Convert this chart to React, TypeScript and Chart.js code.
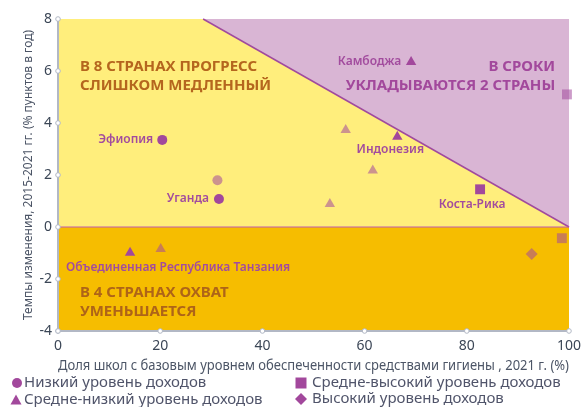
import React, { useEffect, useRef } from "react";
import { Chart, registerables } from "chart.js";

Chart.register(...registerables);

// ---------- data ----------
const X_TICKS = [0, 20, 40, 60, 80, 100];
const Y_TICKS = [-4, -2, 0, 2, 4, 6, 8];

const LEGEND_LABELS = [
  "Низкий уровень доходов",
  "Средне-низкий уровень доходов",
  "Средне-высокий уровень доходов",
  "Высокий уровень доходов",
];

const lowIncome = [
  { x: 20.4, y: 3.35 },
  { x: 31.2, y: 1.8 },
  { x: 31.5, y: 1.08 },
];
const lowIncomeHighlight = [true, false, true];

const lowerMiddle = [
  { x: 69.1, y: 6.35 },
  { x: 56.3, y: 3.73 },
  { x: 66.4, y: 3.47 },
  { x: 61.6, y: 2.17 },
  { x: 53.2, y: 0.88 },
  { x: 14.1, y: -0.99 },
  { x: 20.1, y: -0.85 },
];
const lowerMiddleHighlight = [true, false, true, false, false, true, false];

const upperMiddle = [
  { x: 82.6, y: 1.45 },
  { x: 98.6, y: -0.43 },
  { x: 99.6, y: 5.1 },
];
const upperMiddleHighlight = [true, false, false];

const highIncome = [{ x: 92.7, y: -1.04 }];
const highIncomeHighlight = [false];

// threshold line: required pace to reach universal coverage
const thresholdLine = [
  { x: 28.4, y: 8 },
  { x: 100, y: 0 },
];

const countryLabels = [
  { text: "Эфиопия", x: 20.4, y: 3.35 },
  { text: "Уганда", x: 31.5, y: 1.08 },
  { text: "Камбоджа", x: 69.1, y: 6.35 },
  { text: "Индонезия", x: 66.4, y: 3.47 },
  { text: "Коста-Рика", x: 82.6, y: 1.45 },
  { text: "Объединенная Республика Танзания", x: 14.1, y: -0.99 },
];

const regionNotes = [
  { lines: ["В 8 СТРАНАХ ПРОГРЕСС", "СЛИШКОМ МЕДЛЕННЫЙ"], x: 4.3, y: 6.15, kind: "slow" },
  { lines: ["В 4 СТРАНАХ ОХВАТ", "УМЕНЬШАЕТСЯ"], x: 4.3, y: -2.54, kind: "down" },
  { lines: ["В СРОКИ", "УКЛАДЫВАЮТСЯ 2 СТРАНЫ"], x: 97.3, y: 6.15, kind: "ok" },
];

const X_TITLE = "Доля школ с базовым уровнем обеспеченности средствами гигиены , 2021 г. (%)";
const Y_TITLE = "Темпы изменения, 2015-2021 гг. (% пунктов в год)";

// ---------- styles ----------
const FONT = "'Noto Sans', sans-serif";
const PURPLE = "#A2489C";
const FADED = "rgba(162,72,156,0.55)";
const YELLOW = "#FFEE7C";
const ORANGE = "#F6BD00";
const LAVENDER = "#D9B5D4";
const AXIS = "#B2B8C5";
const TICK_COLOR = "#3B4656";
const TITLE_COLOR = "#4C5566";

const LABEL_STYLE: Record<string, { dx: number; dy: number; align: CanvasTextAlign }> = {
  "Эфиопия": { dx: -9, dy: 0, align: "right" },
  "Уганда": { dx: -10, dy: 0, align: "right" },
  "Камбоджа": { dx: -10, dy: 0, align: "right" },
  "Индонезия": { dx: -7, dy: 13, align: "center" },
  "Коста-Рика": { dx: -8, dy: 15, align: "center" },
  "Объединенная Республика Танзания": { dx: -64, dy: 15, align: "left" },
};

const colorsFor = (flags: boolean[]) => flags.map((h) => (h ? PURPLE : FADED));

const backgroundPlugin = {
  id: "bgRegions",
  beforeDatasetsDraw(chart: any) {
    const { ctx, chartArea, scales } = chart;
    const xs = scales.x, ys = scales.y;
    const { left, right, top, bottom } = chartArea;
    const y0 = ys.getPixelForValue(0);
    ctx.save();
    ctx.fillStyle = YELLOW;
    ctx.fillRect(left, top, right - left, y0 - top);
    ctx.fillStyle = ORANGE;
    ctx.fillRect(left, y0, right - left, bottom - y0);
    const p1 = { x: xs.getPixelForValue(thresholdLine[0].x), y: ys.getPixelForValue(thresholdLine[0].y) };
    const p2 = { x: xs.getPixelForValue(thresholdLine[1].x), y: ys.getPixelForValue(thresholdLine[1].y) };
    ctx.fillStyle = LAVENDER;
    ctx.beginPath();
    ctx.moveTo(p1.x, p1.y);
    ctx.lineTo(p2.x, p2.y);
    ctx.lineTo(right, top);
    ctx.closePath();
    ctx.fill();
    ctx.strokeStyle = "#A04A9E";
    ctx.lineWidth = 1.5;
    ctx.beginPath();
    ctx.moveTo(p1.x, p1.y);
    ctx.lineTo(p2.x, p2.y);
    ctx.stroke();
    ctx.strokeStyle = "#C25AAE";
    ctx.lineWidth = 1.2;
    ctx.beginPath();
    ctx.moveTo(left, y0);
    ctx.lineTo(right, y0);
    ctx.stroke();
    ctx.font = `bold 15px ${FONT}`;
    ctx.textBaseline = "middle";
    regionNotes.forEach((n) => {
      const px = xs.getPixelForValue(n.x);
      const py = ys.getPixelForValue(n.y);
      ctx.fillStyle = n.kind === "ok" ? PURPLE : n.kind === "slow" ? "#B5661E" : "#AE6418";
      ctx.textAlign = n.kind === "ok" ? "right" : "left";
      n.lines.forEach((line, i) => ctx.fillText(line, px, py + i * 19));
    });
    ctx.restore();
  },
  afterDatasetsDraw(chart: any) {
    const { ctx, scales } = chart;
    ctx.save();
    ctx.font = `600 12px ${FONT}`;
    ctx.fillStyle = "#A24C9E";
    ctx.textBaseline = "middle";
    countryLabels.forEach((l) => {
      const st = LABEL_STYLE[l.text];
      ctx.textAlign = st.align;
      ctx.fillText(l.text, scales.x.getPixelForValue(l.x) + st.dx, scales.y.getPixelForValue(l.y) + st.dy);
    });
    ctx.restore();
  },
  afterDraw(chart: any) {
    const { ctx, chartArea, scales } = chart;
    const { left, right, top, bottom } = chartArea;
    ctx.save();
    ctx.strokeStyle = AXIS;
    ctx.lineWidth = 2;
    ctx.beginPath();
    ctx.moveTo(left, top);
    ctx.lineTo(left, bottom);
    ctx.lineTo(right, bottom);
    ctx.stroke();
    ctx.lineWidth = 1;
    const dot = (x: number, y: number) => {
      ctx.beginPath();
      ctx.arc(x, y, 2.3, 0, Math.PI * 2);
      ctx.fillStyle = "#fff";
      ctx.fill();
      ctx.stroke();
    };
    Y_TICKS.forEach((v) => dot(left, scales.y.getPixelForValue(v)));
    X_TICKS.forEach((v) => dot(scales.x.getPixelForValue(v), bottom));

    const drawMarker = (kind: string, x: number, y: number) => {
      ctx.fillStyle = PURPLE;
      ctx.beginPath();
      if (kind === "circle") ctx.arc(x, y, 5, 0, Math.PI * 2);
      else if (kind === "triangle") {
        ctx.moveTo(x, y - 5.5);
        ctx.lineTo(x + 5.5, y + 4.5);
        ctx.lineTo(x - 5.5, y + 4.5);
        ctx.closePath();
      } else if (kind === "rect") ctx.rect(x - 5.5, y - 5.5, 11, 11);
      else {
        ctx.moveTo(x, y - 6);
        ctx.lineTo(x + 6, y);
        ctx.lineTo(x, y + 6);
        ctx.lineTo(x - 6, y);
        ctx.closePath();
      }
      ctx.fill();
    };
    const items = [
      { kind: "circle", mx: 17, tx: 24, y: 383, label: LEGEND_LABELS[0] },
      { kind: "triangle", mx: 16, tx: 24, y: 400, label: LEGEND_LABELS[1] },
      { kind: "rect", mx: 301, tx: 312, y: 383, label: LEGEND_LABELS[2] },
      { kind: "diamond", mx: 301, tx: 312, y: 399, label: LEGEND_LABELS[3] },
    ];
    ctx.font = `15px ${FONT}`;
    ctx.textBaseline = "middle";
    ctx.textAlign = "left";
    items.forEach((it) => {
      drawMarker(it.kind, it.mx, it.y);
      ctx.fillStyle = "#50546A";
      ctx.fillText(it.label, it.tx, it.y);
    });
    ctx.restore();
  },
};

export default function App() {
  const ref = useRef<HTMLCanvasElement>(null);
  useEffect(() => {
    if (!ref.current) return;
    const chart = new Chart(ref.current, {
      type: "scatter",
      data: {
        datasets: [
          {
            label: LEGEND_LABELS[0],
            data: lowIncome,
            pointStyle: "circle",
            pointRadius: 5,
            pointBackgroundColor: colorsFor(lowIncomeHighlight),
            pointBorderWidth: 0,
            clip: false,
          },
          {
            label: LEGEND_LABELS[1],
            data: lowerMiddle,
            pointStyle: "triangle",
            pointRadius: 6,
            pointBackgroundColor: colorsFor(lowerMiddleHighlight),
            pointBorderWidth: 0,
            clip: false,
          },
          {
            label: LEGEND_LABELS[2],
            data: upperMiddle,
            pointStyle: "rect",
            pointRadius: 7,
            pointBackgroundColor: colorsFor(upperMiddleHighlight),
            pointBorderWidth: 0,
            clip: false,
          },
          {
            label: LEGEND_LABELS[3],
            data: highIncome,
            pointStyle: "rectRot",
            pointRadius: 6,
            pointBackgroundColor: colorsFor(highIncomeHighlight),
            pointBorderWidth: 0,
            clip: false,
          },
        ] as any,
      },
      options: {
        animation: false,
        responsive: false,
        layout: { padding: { left: 0, top: 19, right: 14, bottom: 32 } },
        plugins: { legend: { display: false }, tooltip: { enabled: false } },
        scales: {
          x: {
            type: "linear",
            min: 0,
            max: 100,
            afterBuildTicks: (s: any) => {
              s.ticks = X_TICKS.map((v) => ({ value: v }));
            },
            afterFit: (s: any) => {
              s.height = 44;
              s.paddingLeft = 0;
              s.paddingRight = 0;
            },
            grid: { display: false, drawTicks: false },
            border: { display: false },
            ticks: { color: TICK_COLOR, font: { family: FONT, size: 14 }, padding: 7, maxRotation: 0 },
            title: {
              display: true,
              text: X_TITLE,
              color: TITLE_COLOR,
              font: { family: FONT, size: 13.5 },
              padding: { top: 0, bottom: 1 },
            },
          },
          y: {
            type: "linear",
            min: -4,
            max: 8,
            afterBuildTicks: (s: any) => {
              s.ticks = Y_TICKS.map((v) => ({ value: v }));
            },
            afterFit: (s: any) => {
              s.width = 58;
              s.paddingTop = 0;
              s.paddingBottom = 0;
            },
            grid: { display: false, drawTicks: false },
            border: { display: false },
            ticks: { color: TICK_COLOR, font: { family: FONT, size: 14 }, padding: 6 },
            title: {
              display: true,
              text: Y_TITLE,
              color: TITLE_COLOR,
              font: { family: FONT, size: 12 },
              padding: { top: 21, bottom: 0 },
            },
          },
        },
      } as any,
      plugins: [backgroundPlugin],
    });
    return () => chart.destroy();
  }, []);
  return (
    <div style={{ position: "fixed", left: 0, top: 0, width: 583, height: 407, background: "#fff" }}>
      <canvas ref={ref} width={583} height={407} />
    </div>
  );
}
